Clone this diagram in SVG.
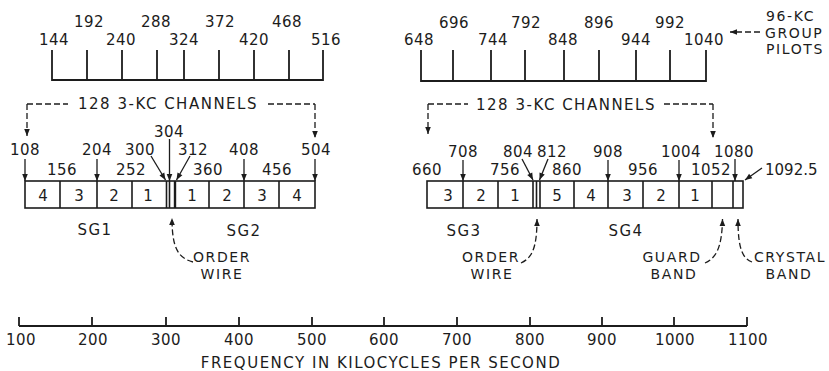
<svg xmlns="http://www.w3.org/2000/svg" width="829" height="371" viewBox="0 0 829 371">
<style>
text{font-family:"DejaVu Sans","Liberation Sans",sans-serif;font-size:15px;fill:#1c1c1c;text-anchor:middle}
.n{letter-spacing:0.5px}
.w{letter-spacing:1.5px}
.s{font-size:14px;letter-spacing:1.6px}
.l{text-anchor:start}
.ln{stroke:#1c1c1c;stroke-width:1.8;fill:none}
.bx{stroke:#1c1c1c;stroke-width:1.6;fill:none}
.ar{stroke:#1c1c1c;stroke-width:1.3;fill:none;marker-end:url(#ah)}
.da{stroke:#1c1c1c;stroke-width:1.3;fill:none;stroke-dasharray:6 3}
.dar{stroke:#1c1c1c;stroke-width:1.3;fill:none;stroke-dasharray:6 3;marker-end:url(#ah)}
</style>
<defs>
<marker id="ah" viewBox="0 0 10 10" refX="10" refY="5" markerWidth="9" markerHeight="7" orient="auto" markerUnits="userSpaceOnUse">
<path d="M0,1 L10,5 L0,9 z" fill="#1c1c1c"/>
</marker>
</defs>
<rect width="829" height="371" fill="#fff"/>

<g id="pilots-left">
<path class="ln" d="M52,50 V80 H323 V50 M87,50 V80 M122,50 V80 M157,50 V80 M184,50 V80 M219,50 V80 M254,50 V80 M289,50 V80"/>
<text class="n" x="89" y="27">192</text>
<text class="n" x="156" y="27">288</text>
<text class="n" x="220" y="27">372</text>
<text class="n" x="287" y="27">468</text>
<text class="n" x="54" y="45">144</text>
<text class="n" x="121" y="45">240</text>
<text class="n" x="184" y="45">324</text>
<text class="n" x="254" y="45">420</text>
<text class="n" x="326" y="45">516</text>
</g>

<g id="pilots-right">
<path class="ln" d="M421,50 V81 H706 V50 M453,50 V81 M491,50 V81 M525,50 V81 M564,50 V81 M599,50 V81 M636,50 V81 M670,50 V81"/>
<text class="n" x="454" y="28">696</text>
<text class="n" x="526" y="28">792</text>
<text class="n" x="599" y="28">896</text>
<text class="n" x="670" y="28">992</text>
<text class="n" x="419" y="45">648</text>
<text class="n" x="493" y="45">744</text>
<text class="n" x="563" y="45">848</text>
<text class="n" x="636" y="45">944</text>
<text class="n" x="704" y="45">1040</text>
</g>

<g id="pilot-label">
<text class="s l" x="766" y="21">96-KC</text>
<text class="s l" x="765" y="37.5">GROUP</text>
<text class="s l" x="766" y="54">PILOTS</text>
</g>

<g id="channels-left">
<rect class="bx" x="25" y="181" width="290" height="27"/>
<path class="bx" d="M60,181 V208 M97,181 V208 M132,181 V208 M166.5,181 V208 M169.5,181 V208 M209,181 V208 M244,181 V208 M279,181 V208"/>
<path stroke="#1c1c1c" stroke-width="2.4" d="M175,181 V208"/>
<text x="43" y="201">4</text>
<text x="79" y="201">3</text>
<text x="114" y="201">2</text>
<text x="148" y="201">1</text>
<text x="192" y="201">1</text>
<text x="227" y="201">2</text>
<text x="262" y="201">3</text>
<text x="297" y="201">4</text>
<text class="n" x="25" y="155">108</text>
<text class="n" x="97" y="155">204</text>
<text class="n" x="140" y="155">300</text>
<text class="n" x="193" y="155">312</text>
<text class="n" x="244" y="155">408</text>
<text class="n" x="316" y="155">504</text>
<text class="n" x="169" y="137">304</text>
<text class="n" x="62" y="175">156</text>
<text class="n" x="131" y="175">252</text>
<text class="n" x="208" y="175">360</text>
<text class="n" x="277" y="175">456</text>
<text class="w" x="95" y="235">SG1</text>
<text class="w" x="244" y="236">SG2</text>
</g>

<g id="channels-right">
<rect class="bx" x="427" y="181" width="316" height="27"/>
<path class="bx" d="M463,181 V208 M498,181 V208 M533,181 V208 M536.5,181 V208 M540,181 V208 M574,181 V208 M608,181 V208 M643,181 V208 M679,181 V208 M712,181 V208 M733,181 V208"/>
<text x="448" y="201">3</text>
<text x="481" y="201">2</text>
<text x="515" y="201">1</text>
<text x="557" y="201">5</text>
<text x="591" y="201">4</text>
<text x="627" y="201">3</text>
<text x="661" y="201">2</text>
<text x="695" y="201">1</text>
<text class="n" x="463" y="157">708</text>
<text class="n" x="518" y="157">804</text>
<text class="n" x="552" y="157">812</text>
<text class="n" x="608" y="157">908</text>
<text class="n" x="681" y="157">1004</text>
<text class="n" x="734" y="157">1080</text>
<text class="n" x="427" y="175">660</text>
<text class="n" x="505" y="175">756</text>
<text class="n" x="567" y="175">860</text>
<text class="n" x="643" y="175">956</text>
<text class="n" x="711" y="175">1052</text>
<text class="l" x="765" y="175">1092.5</text>
<text class="w" x="464" y="236">SG3</text>
<text class="w" x="626" y="236">SG4</text>
</g>

<g id="bracket-left">
<text class="w" x="168" y="109">128 3-KC CHANNELS</text>
</g>
<g id="bracket-right">
<text class="w" x="566" y="110">128 3-KC CHANNELS</text>
</g>

<g id="order-wire-left">
<text class="s" x="222" y="262">ORDER</text>
<text class="s" x="222" y="279">WIRE</text>
</g>
<g id="order-wire-right">
<text class="s" x="491" y="262">ORDER</text>
<text class="s" x="492" y="279">WIRE</text>
</g>
<g id="guard-band">
<text class="s" x="672" y="262">GUARD</text>
<text class="s" x="674" y="279">BAND</text>
</g>
<g id="crystal-band">
<text class="s" x="790" y="262">CRYSTAL</text>
<text class="s" x="789" y="279">BAND</text>
</g>

<g id="axis">
<path class="ln" d="M19,326 H747 M19,317 V326 M92,317 V326 M166,317 V326 M239,317 V326 M312,317 V326 M384,317 V326 M457,317 V326 M530,317 V326 M602,317 V326 M674,317 V326 M747,317 V326"/>
<text class="n" x="21" y="345">100</text>
<text class="n" x="93" y="345">200</text>
<text class="n" x="166" y="345">300</text>
<text class="n" x="239" y="345">400</text>
<text class="n" x="312" y="345">500</text>
<text class="n" x="384" y="345">600</text>
<text class="n" x="457" y="345">700</text>
<text class="n" x="530" y="345">800</text>
<text class="n" x="602" y="345">900</text>
<text class="n" x="675" y="345">1000</text>
<text class="n" x="748" y="345">1100</text>
<text class="w" x="381" y="368">FREQUENCY IN KILOCYCLES PER SECOND</text>
</g>

<g id="connectors">
<path class="da" d="M27,104 H68 M268,104 H315"/>
<path class="dar" d="M27,104 V136"/>
<path class="dar" d="M315,104 V138"/>
<path class="da" d="M428,104 H468 M664,104 H713"/>
<path class="dar" d="M428,104 V134"/>
<path class="dar" d="M713,104 V138"/>
<path class="dar" d="M760,32 H730"/>
<path class="ar" d="M25,159 V181"/>
<path class="ar" d="M97,159 V181"/>
<path class="ar" d="M244,159 V181"/>
<path class="ar" d="M315,159 V181"/>
<path class="ar" d="M169.5,139 V181"/>
<path class="ar" d="M151,156 L165.5,180"/>
<path class="ar" d="M190,156 L176.5,180"/>
<path class="ar" d="M463,160 V181"/>
<path class="ar" d="M608,160 V181"/>
<path class="ar" d="M679,160 V181"/>
<path class="ar" d="M735,159 V181"/>
<path class="ar" d="M522,159 L533,180"/>
<path class="ar" d="M548,159 L539.5,180"/>
<path class="ar" d="M762,168 L745,180"/>
<path class="dar" d="M193,262 C178,258 172,248 172,218"/>
<path class="dar" d="M521,263 C532,258 537,248 537,219"/>
<path class="dar" d="M705,263 C716,258 722,248 722.5,219"/>
<path class="dar" d="M752,262 C742,258 738,248 738,219"/>
</g>
</svg>
